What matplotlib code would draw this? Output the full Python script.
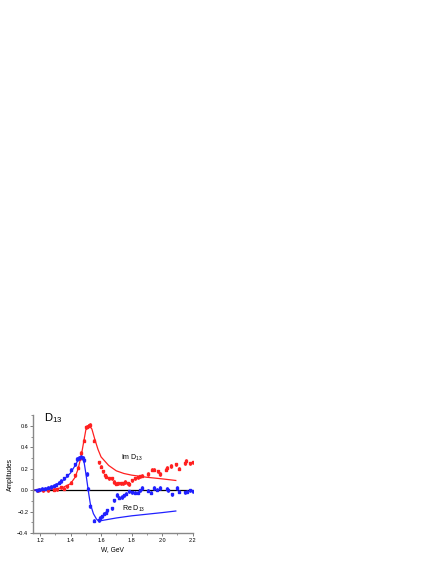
import matplotlib
matplotlib.use('Agg')
import matplotlib.pyplot as plt
from matplotlib.ticker import MultipleLocator

plt.rcParams['font.family'] = ['Liberation Sans', 'DejaVu Sans']
plt.rcParams['mathtext.fontset'] = 'custom'
plt.rcParams['mathtext.rm'] = 'Liberation Sans'

# Im D13 data points
im_w = [1.185, 1.22, 1.255, 1.29, 1.31, 1.34, 1.355, 1.38, 1.40, 1.43, 1.45, 1.46, 1.47,
        1.49, 1.50, 1.51, 1.52, 1.53, 1.555, 1.585, 1.60, 1.615, 1.625, 1.635, 1.65, 1.675,
        1.685, 1.70, 1.71, 1.73, 1.745, 1.76, 1.775, 1.785, 1.80, 1.82, 1.84, 1.855, 1.87,
        1.905, 1.935, 1.945, 1.975, 1.985, 2.025, 2.035, 2.06, 2.09, 2.11, 2.15, 2.16, 2.185, 2.20]
im_val = [0.0, 0.0, 0.0, 0.005, 0.007, 0.025, 0.015, 0.035, 0.07, 0.14, 0.21, 0.30, 0.35,
          0.46, 0.585, 0.59, 0.60, 0.61, 0.46, 0.26, 0.22, 0.175, 0.14, 0.125, 0.11, 0.11,
          0.075, 0.06, 0.065, 0.065, 0.065, 0.075, 0.065, 0.055, 0.09, 0.11, 0.12, 0.13, 0.135,
          0.15, 0.19, 0.19, 0.175, 0.15, 0.19, 0.21, 0.225, 0.24, 0.2, 0.25, 0.275, 0.25, 0.26]

# Re D13 data points
re_w = [1.18, 1.195, 1.215, 1.235, 1.255, 1.27, 1.29, 1.305, 1.325, 1.34, 1.355, 1.375, 1.40,
        1.43, 1.445, 1.455, 1.47, 1.48, 1.49, 1.505, 1.515, 1.53, 1.555, 1.585, 1.595, 1.605,
        1.62, 1.63, 1.64, 1.67, 1.685, 1.705, 1.72, 1.74, 1.75, 1.765, 1.78, 1.80, 1.82, 1.84,
        1.855, 1.87, 1.91, 1.93, 1.945, 1.97, 1.985, 2.03, 2.04, 2.065, 2.095, 2.11, 2.15,
        2.165, 2.185, 2.20]
re_val = [0.0, 0.005, 0.01, 0.015, 0.02, 0.03, 0.04, 0.05, 0.07, 0.085, 0.11, 0.14, 0.19,
          0.24, 0.29, 0.30, 0.31, 0.30, 0.28, 0.15, 0.015, -0.15, -0.285, -0.28, -0.26, -0.245,
          -0.22, -0.21, -0.19, -0.17, -0.095, -0.045, -0.07, -0.065, -0.05, -0.035, -0.01,
          -0.02, -0.025, -0.025, 0.0, 0.02, -0.005, -0.025, 0.02, 0.005, 0.02, 0.015, 0.0,
          -0.04, 0.02, -0.015, -0.02, -0.015, 0.0, -0.01]

# fitted curves
im_fit_w = [1.16, 1.30, 1.35, 1.40, 1.43, 1.45, 1.47, 1.49, 1.50, 1.52, 1.54, 1.56, 1.58,
            1.60, 1.65, 1.70, 1.75, 1.80, 1.90, 2.00, 2.09]
im_fit = [0.0, 0.01, 0.025, 0.06, 0.12, 0.2, 0.32, 0.48, 0.56, 0.61, 0.57, 0.47, 0.38,
          0.31, 0.23, 0.18, 0.155, 0.14, 0.12, 0.105, 0.09]
re_fit_w = [1.16, 1.25, 1.30, 1.35, 1.40, 1.43, 1.45, 1.465, 1.48, 1.49, 1.50, 1.51, 1.52,
            1.53, 1.55, 1.57, 1.585, 1.60, 1.70, 1.80, 1.90, 2.00, 2.09]
re_fit = [0.0, 0.02, 0.045, 0.09, 0.16, 0.23, 0.28, 0.31, 0.30, 0.25, 0.16, 0.06, -0.04,
          -0.13, -0.22, -0.27, -0.29, -0.285, -0.26, -0.24, -0.225, -0.21, -0.195]

fig = plt.figure(figsize=(4.36, 5.64), dpi=100)
ax = fig.add_axes([0.0757, 0.055, 0.366, 0.209])

ax.axhline(0, color='black', lw=0.9, zorder=1)
ax.plot(im_fit_w, im_fit, color='#ff2020', lw=0.9)
ax.plot(re_fit_w, re_fit, color='#2020ff', lw=0.9)
ax.errorbar(im_w, im_val, yerr=0.015, fmt='s', color='#ff2020', ms=1.7, elinewidth=0.5,
            capsize=0.7, capthick=0.5)
ax.errorbar(re_w, re_val, yerr=0.015, fmt='s', color='#2020ff', ms=1.7, elinewidth=0.5,
            capsize=0.7, capthick=0.5)

ax.text(1.226, 0.64, r'D$_{13}$', fontsize=8)
ax.text(1.728, 0.28, r'Im D$_{13}$', fontsize=5)
ax.text(1.735, -0.19, r'Re D$_{13}$', fontsize=5)

ax.set_xlim(1.154, 2.2)
ax.set_ylim(-0.4, 0.7)
ax.set_xticks([1.2, 1.4, 1.6, 1.8, 2.0, 2.2])
ax.set_yticks([-0.4, -0.2, 0.0, 0.2, 0.4, 0.6])
ax.xaxis.set_minor_locator(MultipleLocator(0.1))
ax.yaxis.set_minor_locator(MultipleLocator(0.1))
ax.tick_params(labelsize=4, length=2, width=0.6, color='#666666', pad=1.5)
ax.tick_params(which='minor', length=1.2, width=0.5, color='#666666')
ax.set_xlabel('W, GeV', fontsize=4.8, labelpad=2.5)
ax.set_ylabel('Amplitudes', fontsize=4.8, labelpad=2.5)
for s in ['top', 'right']:
    ax.spines[s].set_visible(False)
for s in ['left', 'bottom']:
    ax.spines[s].set_color('#888888')
    ax.spines[s].set_linewidth(1.0)

fig.savefig('out.png', dpi=100)
